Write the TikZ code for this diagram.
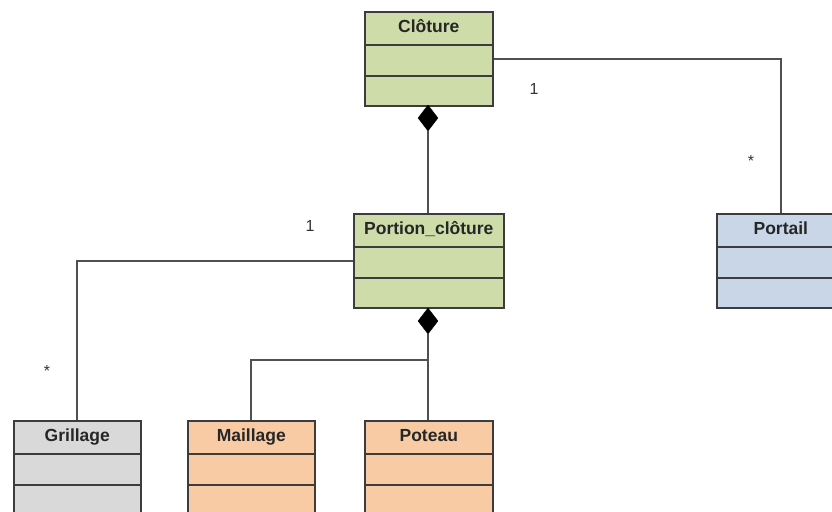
\documentclass[tikz,border=0pt]{standalone}
\usepackage{fontspec}
\setmainfont{Liberation Sans}
\usetikzlibrary{shapes.geometric}
\definecolor{cgreen}{HTML}{CDDCA9}
\definecolor{corange}{HTML}{F8CBA4}
\definecolor{cgray}{HTML}{D9D9D9}
\definecolor{cblue}{HTML}{C9D6E8}
\definecolor{boxline}{HTML}{3C3C3C}
\definecolor{connline}{HTML}{505050}
\begin{document}
\begin{tikzpicture}[x=1pt,y=-1pt,
  classbox/.style={draw=boxline, line width=1.6pt, inner sep=0pt, anchor=north west, minimum height=94pt},
  classtitle/.style={font=\fontsize{17.5}{18}\selectfont\bfseries, text=black!85, inner sep=0pt, anchor=base},
  sepline/.style={draw=boxline, line width=1.4pt},
  conn/.style={draw=connline, line width=1.8pt},
  compo/.style={diamond, fill=black, draw=black, inner sep=0pt, minimum width=20pt, minimum height=26pt},
  mult/.style={font=\fontsize{16}{18}\selectfont, text=black!80, inner sep=0pt}]
\useasboundingbox (0,0) rectangle (832,511);
\clip (0,0) rectangle (832,511);
% classes
\node[classbox, fill=cgreen, minimum width=128pt] (clo) at (364,11) {};
\node[classbox, fill=cgreen, minimum width=150pt] (por) at (353,213) {};
\node[classbox, fill=cblue, minimum width=128pt] (prt) at (716,213) {};
\node[classbox, fill=cgray, minimum width=127pt] (gri) at (13,420) {};
\node[classbox, fill=corange, minimum width=127pt] (mai) at (187,420) {};
\node[classbox, fill=corange, minimum width=128pt] (pot) at (364,420) {};
\foreach \n in {clo,por,prt,gri,mai,pot}{
  \draw[sepline] ([yshift=-34pt]\n.north west) -- ([yshift=-34pt]\n.north east);
  \draw[sepline] ([yshift=-65pt]\n.north west) -- ([yshift=-65pt]\n.north east);
}
\node[classtitle] (clo-t) at ([yshift=-22pt]clo.north) {Clôture};
\node[classtitle] (por-t) at ([yshift=-21pt]por.north) {Portion\_clôture};
\node[classtitle] (prt-t) at ([yshift=-21.5pt]prt.north) {Portail};
\node[classtitle] (gri-t) at ([yshift=-21.5pt]gri.north) {Grillage};
\node[classtitle] (mai-t) at ([yshift=-21.5pt]mai.north) {Maillage};
\node[classtitle] (pot-t) at ([yshift=-21.5pt]pot.north) {Poteau};
% composition diamonds
\node[compo] (d1) at (428,118) {};
\node[compo] (d2) at (428,321) {};
\coordinate (j) at (428,360);
% connectors
\draw[conn] (d1.south) -- (d1.south |- por.north);
\draw[conn] (clo.east) -| (prt.north);
\draw[conn] (por.west) -| (gri.north);
\draw[conn] (d2.south) -- (d2.south |- pot.north);
\draw[conn] (j) -| (mai.north);
% multiplicities
\node[mult] (m1) at (534,89) {1};
\node[mult] (m2) at (751,161) {*};
\node[mult] (m3) at (310,226) {1};
\node[mult] (m4) at (47,371) {*};
\end{tikzpicture}
\end{document}
